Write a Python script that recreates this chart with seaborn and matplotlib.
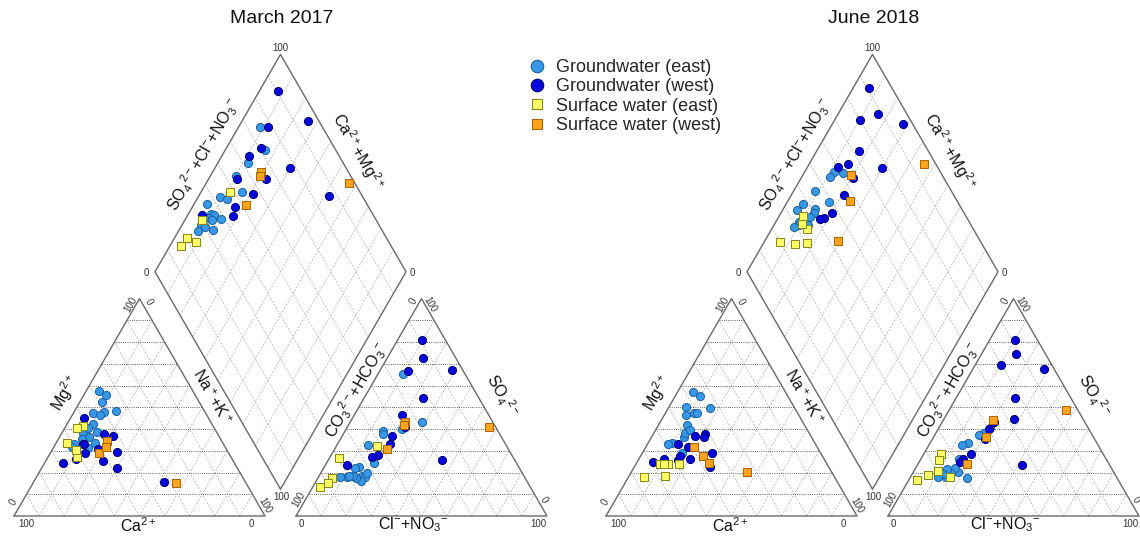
import numpy as np
import pandas as pd
import matplotlib
matplotlib.use("Agg")
import matplotlib.pyplot as plt
import seaborn as sns
from matplotlib.lines import Line2D

sns.set_theme(style="white")
plt.rcParams['font.family'] = ['Liberation Sans', 'DejaVu Sans']
plt.rcParams['mathtext.fontset'] = 'custom'
plt.rcParams['mathtext.rm'] = 'Liberation Sans'
plt.rcParams['mathtext.it'] = 'Liberation Sans:italic'
plt.rcParams['mathtext.bf'] = 'Liberation Sans:bold'
plt.rcParams['mathtext.sf'] = 'Liberation Sans'

# ---------------- data (% meq) ----------------
# Ca2+ = 100 - Mg - (Na+K);  HCO3 = 100 - SO4 - Cl
# March 2017
mar_gwe_mg = [52.6, 33.4, 48.0, 42.3, 38.0, 36.5, 48.4, 57.5, 55.5, 34.2, 35.3, 31.1, 33.1, 47.5, 38.8, 31.9, 40.3, 46.6]
mar_gwe_nak = [8.6, 15.6, 12.0, 10.2, 8.6, 11.8, 16.4, 5.1, 8.9, 10.5, 9.3, 14.1, 7.4, 7.6, 13.5, 7.0, 9.5, 11.0]
mar_gwe_so4 = [65.5, 43.4, 39.9, 39.1, 24.2, 32.7, 37.6, 22.5, 18.4, 17.9, 16.1, 19.9, 17.9, 17.9, 17.3, 18.4, 18.4, 22.2]
mar_gwe_cl = [9.7, 28.4, 22.2, 15.2, 19.0, 12.5, 15.7, 13.7, 17.0, 18.5, 17.8, 18.5, 11.2, 8.6, 15.3, 13.4, 11.8, 12.4]

mar_gww_mg = [24.2, 29.4, 26.2, 28.8, 33.1, 21.9, 25.2, 33.0, 36.9, 15.8, 37.7, 30.7, 44.9]
mar_gww_nak = [7.5, 26.2, 11.6, 14.0, 10.8, 30.0, 23.0, 11.5, 20.9, 52.0, 17.0, 18.2, 5.6]
mar_gww_so4 = [80.8, 67.2, 66.7, 25.6, 41.0, 54.4, 46.5, 33.0, 36.8, 72.5, 27.9, 27.1, 23.5]
mar_gww_cl = [9.7, 28.4, 11.4, 45.2, 23.0, 23.5, 19.1, 21.0, 20.0, 14.2, 18.9, 16.9, 8.4]

mar_swe_mg = [27.3, 41.4, 30.4, 40.6, 33.4]
mar_swe_nak = [11.3, 6.9, 9.5, 4.9, 4.3]
mar_swe_so4 = [32.2, 26.8, 17.6, 15.3, 13.3]
mar_swe_cl = [16.0, 3.9, 5.4, 5.2, 2.9]

mar_sww_mg = [29.1, 34.6, 31.9, 15.2]
mar_sww_nak = [19.4, 19.9, 20.7, 56.8]
mar_sww_so4 = [43.4, 41.9, 30.7, 41.1]
mar_sww_cl = [21.7, 22.1, 20.8, 56.5]

# June 2018
jun_gwe_mg = [28.8, 41.9, 47.2, 49.5, 46.5, 47.5, 36.5, 50.3, 38.0, 39.6, 57.2, 33.7, 55.2, 33.1]
jun_gwe_nak = [15.7, 11.5, 11.5, 16.7, 8.6, 12.6, 13.0, 6.7, 12.5, 13.7, 5.9, 9.3, 9.9, 8.3]
jun_gwe_so4 = [40.6, 38.3, 37.3, 33.7, 32.7, 26.1, 17.3, 20.4, 21.9, 19.9, 21.5, 17.9, 19.4, 17.9]
jun_gwe_cl = [20.5, 19.2, 17.7, 15.2, 13.0, 15.4, 22.8, 17.6, 15.7, 15.2, 12.8, 14.2, 12.1, 11.1]

jun_gww_mg = [25.0, 25.8, 26.2, 28.8, 36.9, 22.7, 33.1, 27.6, 37.7, 36.5, 26.2, 31.9, 31.6]
jun_gww_nak = [6.4, 15.9, 10.0, 28.0, 17.0, 30.1, 12.3, 15.7, 20.6, 20.9, 20.4, 18.2, 17.0]
jun_gww_so4 = [80.8, 74.7, 69.5, 67.5, 44.5, 54.4, 39.9, 23.5, 43.4, 35.3, 28.7, 26.1, 25.0]
jun_gww_cl = [10.2, 13.6, 10.3, 28.5, 28.1, 23.4, 20.4, 41.6, 20.4, 21.0, 18.7, 16.7, 16.3]

jun_swe_mg = [23.9, 18.4, 18.1, 23.9, 23.9, 24.0]
jun_swe_nak = [9.6, 14.3, 6.1, 12.6, 17.3, 11.0]
jun_swe_so4 = [28.4, 17.9, 16.6, 18.9, 20.7, 25.6]
jun_swe_cl = [6.9, 15.9, 3.3, 6.4, 9.7, 7.4]

jun_sww_mg = [31.9, 27.7, 24.2, 20.2]
jun_sww_nak = [19.1, 24.7, 29.1, 45.9]
jun_sww_so4 = [44.0, 36.5, 23.8, 48.8]
jun_sww_cl = [19.7, 20.8, 19.6, 46.5]

groups = ["Groundwater (east)", "Groundwater (west)", "Surface water (east)", "Surface water (west)"]
panel_titles = ["March 2017", "June 2018"]

# ---------------- geometry ----------------
H = np.sqrt(3) / 2
GAP = 31 / 251
PANEL_DX = 592 / 251


def cation_xy(mg, nak):
    mg = np.asarray(mg) / 100
    nak = np.asarray(nak) / 100
    return nak + 0.5 * mg, H * mg


def anion_xy(so4, cl):
    so4 = np.asarray(so4) / 100
    cl = np.asarray(cl) / 100
    return 1 + GAP + cl + 0.5 * so4, H * so4


def diamond_xy(nak, so4, cl):
    a = (np.asarray(so4) + np.asarray(cl)) / 100
    c = 1 - np.asarray(nak) / 100
    bx, by = 1 + GAP / 2, GAP * H
    return bx + 0.5 * (a - c), by + H * (a + c)


panel_data = [
    {groups[0]: (mar_gwe_mg, mar_gwe_nak, mar_gwe_so4, mar_gwe_cl),
     groups[1]: (mar_gww_mg, mar_gww_nak, mar_gww_so4, mar_gww_cl),
     groups[2]: (mar_swe_mg, mar_swe_nak, mar_swe_so4, mar_swe_cl),
     groups[3]: (mar_sww_mg, mar_sww_nak, mar_sww_so4, mar_sww_cl)},
    {groups[0]: (jun_gwe_mg, jun_gwe_nak, jun_gwe_so4, jun_gwe_cl),
     groups[1]: (jun_gww_mg, jun_gww_nak, jun_gww_so4, jun_gww_cl),
     groups[2]: (jun_swe_mg, jun_swe_nak, jun_swe_so4, jun_swe_cl),
     groups[3]: (jun_sww_mg, jun_sww_nak, jun_sww_so4, jun_sww_cl)},
]

rows = []
for p, pdata in enumerate(panel_data):
    ox = p * PANEL_DX
    for g in groups:
        mg, nak, so4, cl = pdata[g]
        for fx, fy in (cation_xy(mg, nak), anion_xy(so4, cl), diamond_xy(nak, so4, cl)):
            for xx, yy in zip(fx, fy):
                rows.append({"panel": p, "group": g, "x": xx + ox, "y": yy})
df = pd.DataFrame(rows)

styles = {
    groups[0]: dict(marker="o", fc="#3798E8", ec="#1F5F9E", s=34),
    groups[1]: dict(marker="o", fc="#0505DC", ec="#000070", s=34),
    groups[2]: dict(marker="s", fc="#FFFF66", ec="#85851A", s=26),
    groups[3]: dict(marker="s", fc="#FFA41C", ec="#A86400", s=26),
}

# ---------------- figure ----------------
fig = plt.figure(figsize=(11.4, 5.37), dpi=100)
ax = fig.add_axes([0, 0, 1, 1])
ax.set_xlim(-14 / 251, 1126 / 251)
ax.set_ylim(-21 / 251, 516 / 251)
ax.axis("off")

EDGE = dict(color="#6a6a6a", lw=1.0, zorder=2)
DOT = dict(color="#333333", lw=0.6, ls=(0, (1, 1.6)), zorder=1)
DASH = dict(color="#b0b0b0", lw=0.5, ls=(0, (3, 2)), zorder=1)
TICK = dict(fontsize=7, color="#333333", ha="center", va="center")
LAB = dict(fontsize=11.5, color="#111111", ha="center", va="center")


def draw_panel(ox, title):
    # cation triangle
    tri = np.array([[0, 0], [1, 0], [0.5, H], [0, 0]])
    ax.plot(tri[:, 0] + ox, tri[:, 1], **EDGE)
    # anion triangle
    x0 = 1 + GAP
    ax.plot(tri[:, 0] + ox + x0, tri[:, 1], **EDGE)
    for k in range(1, 10):
        f = k / 10
        for base in (0, x0):
            ax.plot([base + 0.5 * f + ox, base + 1 - 0.5 * f + ox], [H * f, H * f], **DOT)
            ax.plot([base + f + ox, base + f + 0.5 * (1 - f) + ox], [0, H * (1 - f)], **DASH)
            ax.plot([base + 1 - f + ox, base + 0.5 * (1 - f) + ox], [0, H * (1 - f)], **DASH)
    # diamond
    bx, by = 1 + GAP / 2, GAP * H
    dia = np.array([[bx, by], [bx + 0.5, by + H], [bx, by + 2 * H], [bx - 0.5, by + H], [bx, by]])
    ax.plot(dia[:, 0] + ox, dia[:, 1], **EDGE)
    for k in range(1, 10):
        f = k / 10
        sx, sy = bx + 0.5 * f, by + H * f
        ax.plot([sx + ox, sx - 0.5 + ox], [sy, sy + H], **DASH)
        sx, sy = bx - 0.5 * f, by + H * f
        ax.plot([sx + ox, sx + 0.5 + ox], [sy, sy + H], **DASH)

    # vertex tick labels
    ticks = [
        ("100", 0.048, -0.030, 0), ("0", 0.944, -0.030, 0),
        ("0", -0.003, 0.057, 60), ("100", 0.466, 0.841, 60),
        ("0", 0.535, 0.854, -60), ("100", 1.000, 0.040, -60),
        ("0", 1.143, -0.030, 0), ("100", 2.089, -0.030, 0),
        ("100", 1.133, 0.064, 60), ("0", 1.591, 0.854, 60),
        ("100", 1.657, 0.841, -60), ("0", 2.109, 0.064, -60),
        ("100", 1.061, 1.866, 0), ("0", 0.529, 0.970, 0),
        ("0", 1.588, 0.970, 0), ("100", 1.066, 0.077, 0),
    ]
    for t, u, v, r in ticks:
        ax.text(u + ox, v, t, rotation=r, **TICK)

    # axis labels
    ax.text(0.494 + ox, -0.040, r"Ca$^{2+}$", **LAB)
    ax.text(0.203 + ox, 0.490, r"Mg$^{2+}$", rotation=60, **LAB)
    ax.text(0.789 + ox, 0.474, r"Na$^+$+K$^+$", rotation=-60, **LAB)
    ax.text(1.590 + ox, -0.036, r"Cl$^{-}$+NO$_3$$^{-}$", **LAB)
    ax.text(1.367 + ox, 0.502, r"CO$_3$$^{2-}$+HCO$_3$$^{-}$", rotation=60, **LAB)
    ax.text(1.944 + ox, 0.478, r"SO$_4$$^{2-}$", rotation=-60, **LAB)
    ax.text(0.753 + ox, 1.438, r"SO$_4$$^{2-}$+Cl$^{-}$+NO$_3$$^{-}$", rotation=60, **LAB)
    ax.text(1.371 + ox, 1.454, r"Ca$^{2+}$+Mg$^{2+}$", rotation=-60, **LAB)

    ax.text(1.067 + ox, 1.982, title, fontsize=14, color="#111111", ha="center", va="center")


for p, title in enumerate(panel_titles):
    draw_panel(p * PANEL_DX, title)

for g in groups:
    st = styles[g]
    sub = df[df["group"] == g]
    sns.scatterplot(data=sub, x="x", y="y", marker=st["marker"], color=st["fc"],
                    edgecolor=st["ec"], linewidth=0.7, s=st["s"], ax=ax,
                    legend=False, zorder=4)

ax.set_xlim(-14 / 251, 1126 / 251)
ax.set_ylim(-21 / 251, 516 / 251)
ax.axis("off")

handles = [Line2D([], [], ls="", marker=styles[g]["marker"], markerfacecolor=styles[g]["fc"],
                  markeredgecolor=styles[g]["ec"], markeredgewidth=0.8,
                  markersize=9 if styles[g]["marker"] == "o" else 7.5, label=g) for g in groups]
fig.legend(handles=handles, loc="upper left", bbox_to_anchor=(526 / 1140, 1 - 59 / 537),
           frameon=False, fontsize=13, handletextpad=0.45, labelspacing=0.13,
           borderpad=0, borderaxespad=0, handlelength=1.2)

fig.savefig("out.png", dpi=100)
